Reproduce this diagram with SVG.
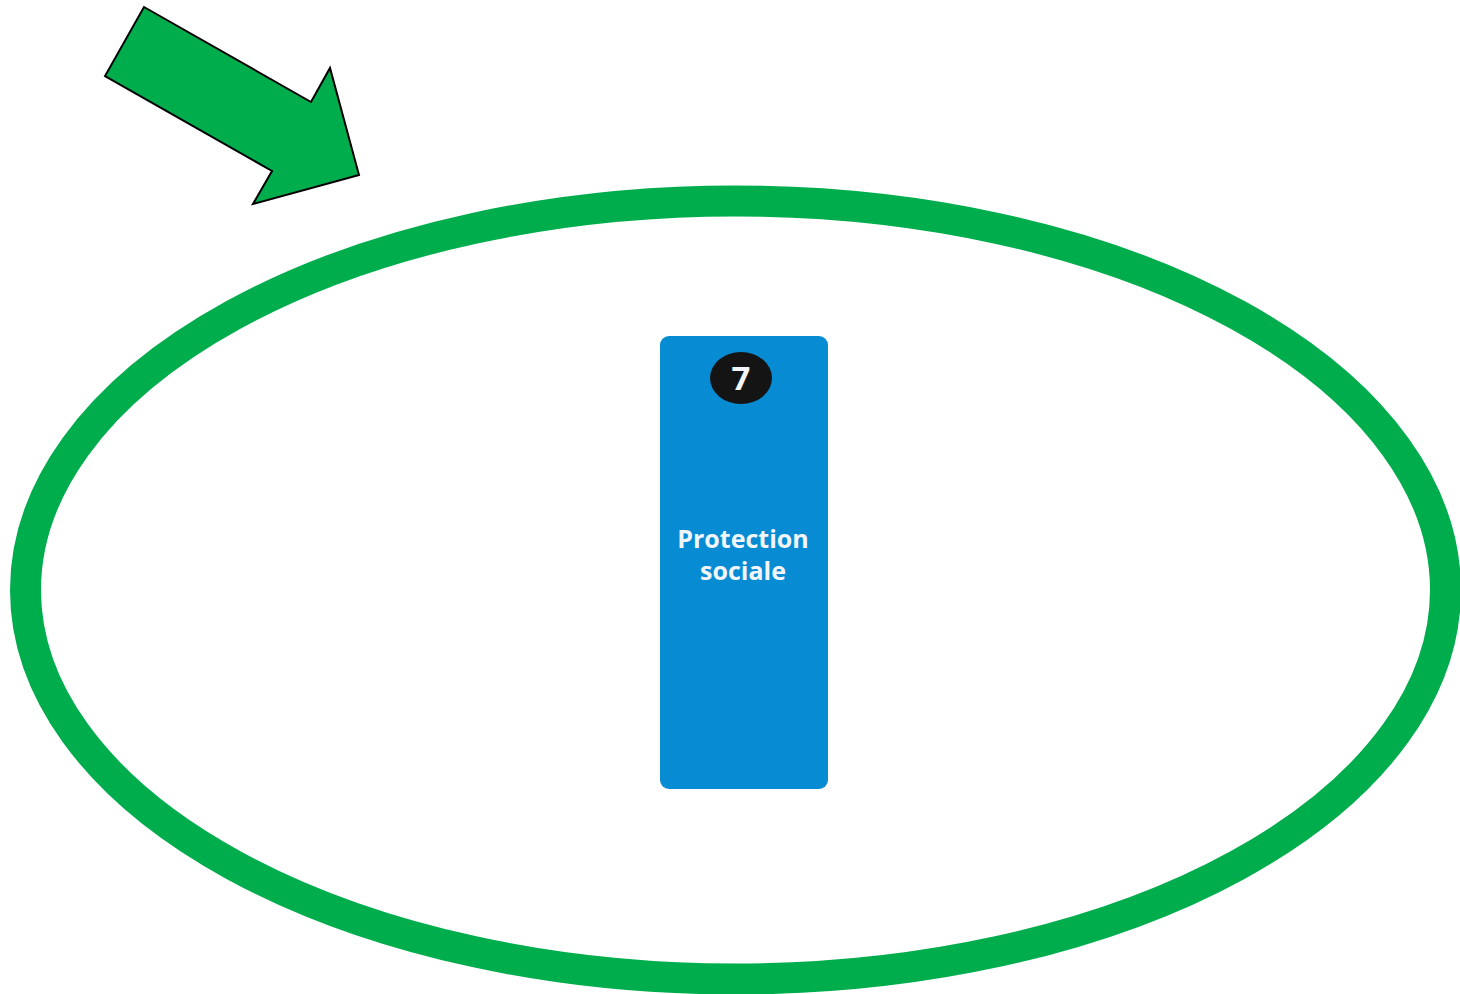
<svg xmlns="http://www.w3.org/2000/svg" width="1460" height="994" viewBox="0 0 1460 994">
<style>
.lbl{font-family:"Open Sans","Noto Sans","Liberation Sans",sans-serif;font-weight:bold;fill:#f2f6fa;text-anchor:middle}
</style>
<rect width="1460" height="994" fill="#ffffff"/>
<g id="ellipse">
<ellipse cx="735.5" cy="590" rx="710" ry="389" fill="none" stroke="#00ad4d" stroke-width="31"/>
</g>
<g id="arrow">
<polygon points="144,7 311,102 330,68 359,175 253,204 272,171 105,76" fill="#00ad4d" stroke="#000" stroke-width="2" stroke-linejoin="miter"/>
</g>
<g id="node7">
<rect x="660" y="336" width="168" height="453" rx="9" fill="#078cd4"/>
<ellipse cx="741" cy="378" rx="31" ry="26" fill="#141414"/>
<text x="741" y="390" class="lbl" font-size="33" fill="#ffffff">7</text>
<text x="743" y="548" class="lbl" font-size="25">Protection</text>
<text x="743" y="580" class="lbl" font-size="25">sociale</text>
</g>
</svg>
